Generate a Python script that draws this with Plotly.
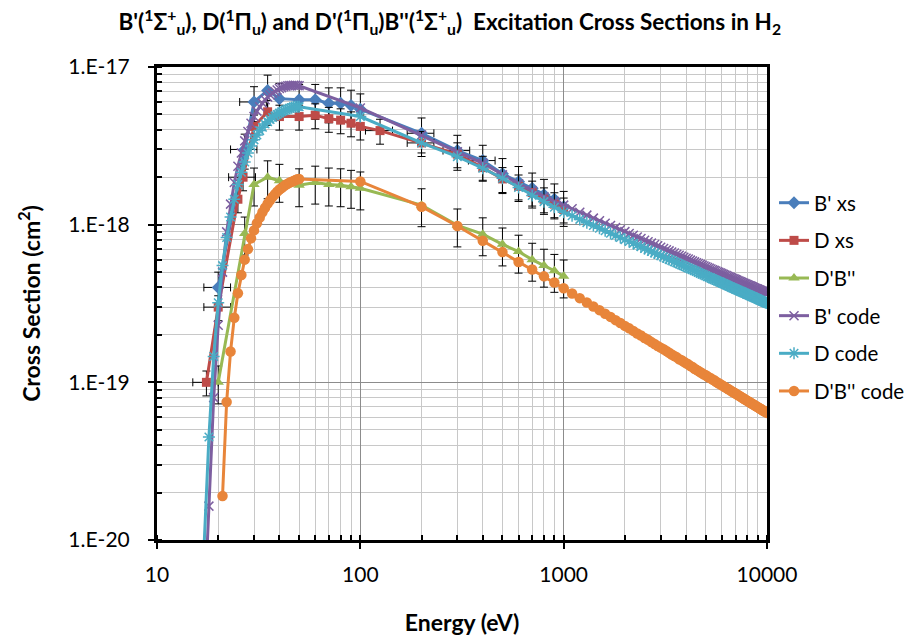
import plotly.graph_objects as go

UNIT = 1e-18  # all cross-section lists below are in units of 1e-18 cm^2

# ---------------- experimental data ----------------
bp_xs_E = [20, 27, 30, 35, 40, 50, 60, 70, 80, 90, 100, 200, 300, 400, 500, 600, 700, 800, 900, 1000]
bp_xs_V = [0.40, 3.0, 6.0, 7.1, 6.3, 6.2, 6.2, 5.9, 5.9, 5.7, 5.4, 3.8, 2.95, 2.55, 2.1, 1.87, 1.7, 1.55, 1.45, 1.3]
bp_xs_dE = [3, 4, 4.5, 0, 0, 0, 0, 0, 0, 0, 0, 30, 45, 60, 0, 0, 0, 0, 0, 0]

d_xs_E = [17.5, 20, 25, 26.5, 30, 35, 40, 50, 60, 70, 80, 90, 100, 125, 200, 300, 400, 500, 600, 700, 800, 900, 1000]
d_xs_V = [0.10, 0.30, 1.45, 2.0, 4.2, 5.2, 4.85, 4.85, 4.95, 4.7, 4.6, 4.4, 4.2, 3.95, 3.3, 2.8, 2.3, 1.95, 1.75, 1.6, 1.45, 1.35, 1.25]
d_xs_dE = [2.5, 3, 0, 4, 0, 0, 0, 0, 0, 0, 0, 0, 0, 19, 30, 0, 0, 0, 0, 0, 0, 0, 0]

dpbpp_E = [20, 27, 30, 35, 40, 50, 60, 70, 80, 90, 100, 200, 300, 400, 500, 600, 700, 800, 900, 1000]
dpbpp_V = [0.10, 0.88, 1.8, 2.0, 1.9, 1.78, 1.85, 1.8, 1.78, 1.74, 1.7, 1.33, 0.99, 0.87, 0.75, 0.675, 0.60, 0.55, 0.51, 0.47]

# ---------------- code results ----------------
low_E_bd = list(range(17, 51))            # 17 ... 50 eV
low_E_o = list(range(21, 51))             # 21 ... 50 eV
mid_E = list(range(100, 1001, 100))       # 100 ... 1000 eV
tail_E = list(range(1100, 10001, 100))    # 1100 ... 10000 eV

bp_code_low = [0.003, 0.0164, 0.080, 0.23, 0.50, 0.90, 1.35, 1.85, 2.35, 2.85, 3.4, 3.9, 4.4, 4.85, 5.25, 5.6, 5.9,
               6.2, 6.45, 6.65, 6.85, 7.0, 7.15, 7.3, 7.4, 7.5, 7.55, 7.6, 7.62, 7.64, 7.65, 7.65, 7.62, 7.6]
bp_code_mid = [5.5, 3.7, 2.9, 2.45, 2.07, 1.82, 1.64, 1.50, 1.40, 1.33]
bp_code_tail = [1.26, 1.20, 1.15, 1.10, 1.06, 1.02, 0.989, 0.958, 0.929, 0.903,
                0.879, 0.856, 0.835, 0.816, 0.797, 0.780, 0.764, 0.748, 0.734, 0.720,
                0.707, 0.694, 0.682, 0.671, 0.661, 0.650, 0.640, 0.631, 0.622, 0.613,
                0.605, 0.596, 0.589, 0.581, 0.574, 0.567, 0.560, 0.554, 0.547, 0.541,
                0.535, 0.529, 0.524, 0.518, 0.513, 0.508, 0.503, 0.498, 0.493, 0.489,
                0.484, 0.480, 0.476, 0.471, 0.467, 0.463, 0.459, 0.456, 0.452, 0.448,
                0.445, 0.441, 0.438, 0.435, 0.431, 0.428, 0.425, 0.422, 0.419, 0.416,
                0.413, 0.410, 0.408, 0.405, 0.402, 0.400, 0.397, 0.394, 0.392, 0.390,
                0.387, 0.385, 0.382, 0.380, 0.378, 0.376, 0.374, 0.371, 0.369, 0.367]

d_code_low = [0.0085, 0.045, 0.146, 0.32, 0.55, 0.83, 1.12, 1.45, 1.8, 2.15, 2.5, 2.85, 3.15, 3.45, 3.7, 3.95, 4.15,
              4.35, 4.5, 4.65, 4.78, 4.9, 5.0, 5.1, 5.2, 5.28, 5.35, 5.42, 5.48, 5.53, 5.57, 5.6, 5.6, 5.6]
d_code_mid = [4.85, 3.3, 2.7, 2.28, 1.97, 1.72, 1.53, 1.40, 1.29, 1.20]
d_code_tail = [1.14, 1.08, 1.03, 0.988, 0.949, 0.915, 0.883, 0.854, 0.828, 0.804,
               0.782, 0.761, 0.742, 0.724, 0.707, 0.691, 0.676, 0.662, 0.649, 0.636,
               0.624, 0.613, 0.602, 0.592, 0.582, 0.573, 0.564, 0.555, 0.547, 0.539,
               0.531, 0.524, 0.517, 0.510, 0.504, 0.497, 0.491, 0.485, 0.480, 0.474,
               0.468, 0.463, 0.458, 0.453, 0.449, 0.444, 0.439, 0.435, 0.431, 0.427,
               0.423, 0.419, 0.415, 0.411, 0.407, 0.404, 0.400, 0.397, 0.394, 0.390,
               0.387, 0.384, 0.381, 0.378, 0.375, 0.372, 0.369, 0.367, 0.364, 0.361,
               0.359, 0.356, 0.354, 0.351, 0.349, 0.347, 0.344, 0.342, 0.340, 0.338,
               0.335, 0.333, 0.331, 0.329, 0.327, 0.325, 0.323, 0.321, 0.320, 0.318]

o_code_low = [0.019, 0.075, 0.157, 0.257, 0.367, 0.48, 0.60, 0.70, 0.82, 0.92, 1.02, 1.11, 1.20, 1.28, 1.36,
              1.43, 1.50, 1.56, 1.62, 1.67, 1.71, 1.75, 1.79, 1.82, 1.85, 1.87, 1.89, 1.92, 1.94, 1.95]
o_code_mid = [1.88, 1.30, 0.98, 0.79, 0.67, 0.58, 0.52, 0.47, 0.43, 0.395]
o_code_tail = [0.366, 0.342, 0.321, 0.303, 0.287, 0.272, 0.260, 0.248, 0.238, 0.228,
               0.220, 0.212, 0.204, 0.198, 0.191, 0.186, 0.180, 0.175, 0.170, 0.166,
               0.162, 0.158, 0.154, 0.150, 0.147, 0.144, 0.140, 0.138, 0.135, 0.132,
               0.130, 0.127, 0.125, 0.122, 0.120, 0.118, 0.116, 0.114, 0.112, 0.111,
               0.109, 0.107, 0.106, 0.104, 0.103, 0.101, 0.0998, 0.0984, 0.0971, 0.0958,
               0.0946, 0.0934, 0.0922, 0.0911, 0.0900, 0.0889, 0.0878, 0.0868, 0.0858, 0.0848,
               0.0839, 0.0830, 0.0821, 0.0812, 0.0804, 0.0795, 0.0787, 0.0779, 0.0771, 0.0763,
               0.0756, 0.0749, 0.0742, 0.0735, 0.0728, 0.0721, 0.0715, 0.0708, 0.0702, 0.0696,
               0.0690, 0.0684, 0.0678, 0.0672, 0.0666, 0.0661, 0.0656, 0.0650, 0.0645, 0.0640]

x_tickvals = [10, 100, 1000, 10000]
x_ticktext = ["10", "100", "1000", "10000"]
y_tickvals = [1e-20, 1e-19, 1e-18, 1e-17]
y_ticktext = ["1.E-20", "1.E-19", "1.E-18", "1.E-17"]

C_BLUE, C_RED, C_GREEN = "#4A7EBB", "#BE4B48", "#98B954"
C_PURPLE, C_CYAN, C_ORANGE = "#7D5FA0", "#4AACC5", "#E8853A"


def sc(vals):
    return [v * UNIT for v in vals]


FONT = "Lato, 'Open Sans', sans-serif"
fig = go.Figure()

ebar = dict(color="black", thickness=1, width=4)

fig.add_trace(go.Scatter(
    x=bp_xs_E, y=sc(bp_xs_V), name="B' xs", mode="lines+markers", legendgroup="a",
    line=dict(color=C_BLUE, width=3),
    marker=dict(symbol="diamond", size=10, color=C_BLUE),
    error_y=dict(type="percent", value=25, **ebar),
    error_x=dict(type="data", array=bp_xs_dE, **ebar)))
fig.add_trace(go.Scatter(
    x=d_xs_E, y=sc(d_xs_V), name="D xs", mode="lines+markers", legendgroup="b",
    line=dict(color=C_RED, width=3),
    marker=dict(symbol="square", size=9, color=C_RED),
    error_y=dict(type="percent", value=18, **ebar),
    error_x=dict(type="data", array=d_xs_dE, **ebar)))
fig.add_trace(go.Scatter(
    x=dpbpp_E, y=sc(dpbpp_V), name="D'B''", mode="lines+markers", legendgroup="c",
    line=dict(color=C_GREEN, width=3),
    marker=dict(symbol="triangle-up", size=10, color=C_GREEN),
    error_y=dict(type="percent", value=27, **ebar)))

fig.add_trace(go.Scatter(
    x=low_E_bd + mid_E + tail_E, y=sc(bp_code_low + bp_code_mid + bp_code_tail),
    name="B' code", mode="lines+markers", legendgroup="d",
    line=dict(color=C_PURPLE, width=3),
    marker=dict(symbol="x-thin", size=9, color=C_PURPLE, line=dict(color=C_PURPLE, width=1.5))))
fig.add_trace(go.Scatter(
    x=low_E_bd + mid_E + tail_E, y=sc(d_code_low + d_code_mid + d_code_tail),
    name="D code", mode="lines+markers", legendgroup="e",
    line=dict(color=C_CYAN, width=3),
    marker=dict(symbol="asterisk", size=10, color=C_CYAN, line=dict(color=C_CYAN, width=1.5))))
fig.add_trace(go.Scatter(
    x=low_E_o + mid_E + tail_E, y=sc(o_code_low + o_code_mid + o_code_tail),
    name="D'B'' code", mode="lines+markers", legendgroup="f",
    line=dict(color=C_ORANGE, width=3),
    marker=dict(symbol="circle", size=10.5, color=C_ORANGE)))

axis_common = dict(
    type="log", showline=True, linecolor="black", linewidth=3, mirror=True,
    ticks="outside", ticklen=6, tickwidth=2, tickcolor="black",
    showgrid=True, gridcolor="#8C8C8C", gridwidth=1,
    tickfont=dict(family=FONT, size=21, color="black"),
    minor=dict(ticks="inside", ticklen=5, tickwidth=2, tickcolor="black", dtick="D1",
               showgrid=True, gridcolor="#C8C8C8", gridwidth=1),
    zeroline=False, automargin=False,
)

fig.update_xaxes(axis_common, range=[1, 4], tickmode="array", tickvals=x_tickvals, ticktext=x_ticktext,
                 ticklabelstandoff=8,
                 title=dict(text="<b>Energy (eV)</b>", font=dict(family=FONT, size=23, color="black"), standoff=30))
fig.update_yaxes(axis_common, range=[-20, -17], tickmode="array", tickvals=y_tickvals, ticktext=y_ticktext,
                 ticklabelstandoff=14,
                 title=dict(text="<b>Cross Section (cm<sup>2</sup>)</b>", font=dict(family=FONT, size=23, color="black"),
                            standoff=22))

fig.update_layout(
    width=905, height=640,
    margin=dict(l=157, r=138, t=67, b=100, autoexpand=False),
    paper_bgcolor="white", plot_bgcolor="white",
    title=dict(
        text="<b>B'(<sup>1</sup>Σ<sup>+</sup><sub>u</sub>), D(<sup>1</sup>Π<sub>u</sub>) and "
             "D'(<sup>1</sup>Π<sub>u</sub>)B''(<sup>1</sup>Σ<sup>+</sup><sub>u</sub>)  "
             "Excitation Cross Sections in H<sub>2</sub></b>",
        font=dict(family=FONT, size=22.5, color="black"),
        x=0.497, xref="container", xanchor="center", y=0.965, yanchor="middle"),
    showlegend=True,
    legend=dict(x=1.0115, xanchor="left", y=0.755, yanchor="top",
                font=dict(family=FONT, size=20.5, color="black"),
                tracegroupgap=8, traceorder="grouped", itemwidth=30,
                bgcolor="rgba(0,0,0,0)"),
)

fig.write_html("out.html")
